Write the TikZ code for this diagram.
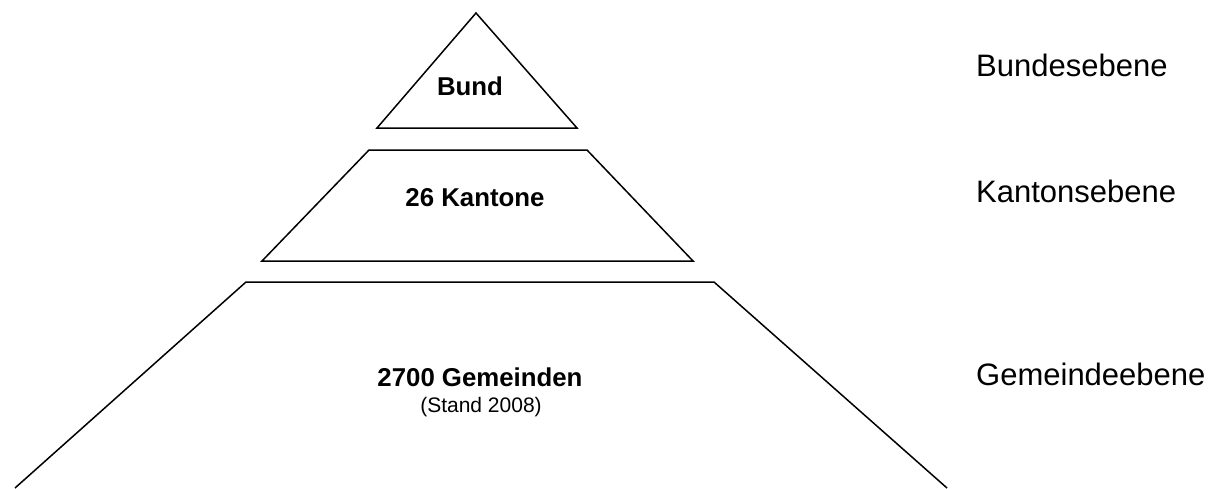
\documentclass[tikz,border=0pt]{standalone}
\usepackage{fontspec}
\setmainfont{Liberation Sans}
\begin{document}
\begin{tikzpicture}[x=1pt,y=-1pt,
  outline/.style={draw=black,line width=1.5pt,line join=miter},
  boldlab/.style={font=\fontsize{25.8}{28}\selectfont\bfseries,anchor=base,inner sep=0},
  smalllab/.style={font=\fontsize{21}{24}\selectfont,anchor=base,inner sep=0},
  levellab/.style={font=\fontsize{31}{34}\selectfont,anchor=base west,inner sep=0}]
\useasboundingbox (0,0) rectangle (1219,488);
\draw[outline] (476,13) -- (577,128) -- (377,128) -- cycle;
\draw[outline] (369,150) -- (587,150) -- (693,261) -- (262,261) -- cycle;
\draw[outline] (15,488) -- (246,282) -- (714,282) -- (947,488);
\node[boldlab] (bund) at (470,95) {Bund};
\node[boldlab] (kant) at (475,206) {26 Kantone};
\node[boldlab] (gem) at (480,386) {2700 Gemeinden};
\node[smalllab] (stand) at (481,412) {(Stand 2008)};
\node[levellab] (l1) at (976,76) {Bundesebene};
\node[levellab] (l2) at (976,202) {Kantonsebene};
\node[levellab] (l3) at (976,385) {Gemeindeebene};
\end{tikzpicture}
\end{document}
